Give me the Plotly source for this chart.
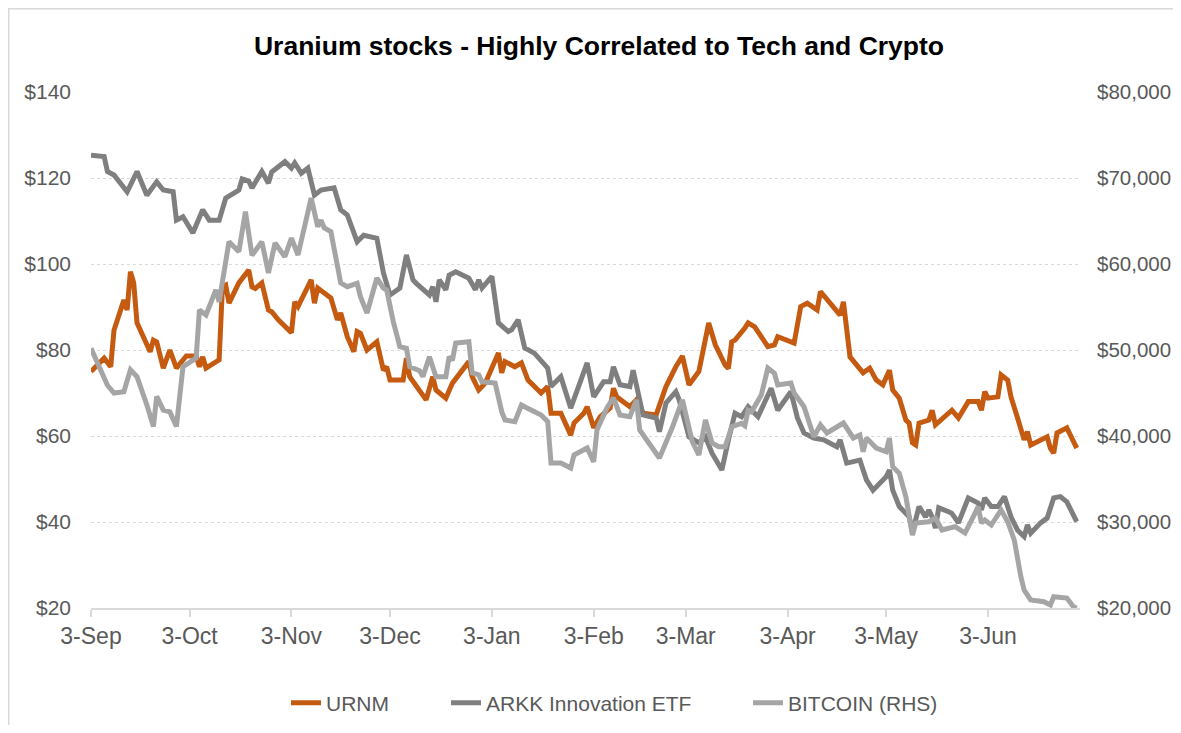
import plotly.graph_objects as go

# ---------------- data ----------------
urnm_dates = ["2021-09-03","2021-09-07","2021-09-09","2021-09-10","2021-09-13","2021-09-14","2021-09-15","2021-09-16",
 "2021-09-17","2021-09-20","2021-09-21","2021-09-22","2021-09-23","2021-09-25","2021-09-27","2021-09-29","2021-10-02",
 "2021-10-05","2021-10-06","2021-10-07","2021-10-08","2021-10-12","2021-10-13","2021-10-14","2021-10-15","2021-10-18",
 "2021-10-21","2021-10-22","2021-10-23","2021-10-25","2021-10-27","2021-10-28","2021-10-30","2021-11-03","2021-11-04",
 "2021-11-05","2021-11-09","2021-11-10","2021-11-11","2021-11-15","2021-11-17","2021-11-18","2021-11-20","2021-11-22",
 "2021-11-23","2021-11-24","2021-11-26","2021-11-29","2021-12-01","2021-12-02","2021-12-03","2021-12-07","2021-12-08",
 "2021-12-09","2021-12-11","2021-12-14","2021-12-16","2021-12-17","2021-12-20","2021-12-22","2021-12-27","2021-12-28",
 "2021-12-30","2022-01-01","2022-01-05","2022-01-06","2022-01-07","2022-01-10","2022-01-12","2022-01-14","2022-01-18",
 "2022-01-20","2022-01-21","2022-01-24","2022-01-27","2022-01-28","2022-01-31","2022-02-01","2022-02-03","2022-02-05",
 "2022-02-08","2022-02-09","2022-02-10","2022-02-12","2022-02-14","2022-02-16","2022-02-18","2022-02-22","2022-02-25",
 "2022-02-28","2022-03-02","2022-03-04","2022-03-07","2022-03-10","2022-03-12","2022-03-15","2022-03-16","2022-03-17",
 "2022-03-18","2022-03-21","2022-03-22","2022-03-24","2022-03-28","2022-03-30","2022-03-31","2022-04-05","2022-04-07",
 "2022-04-09","2022-04-12","2022-04-13","2022-04-19","2022-04-20","2022-04-22","2022-04-26","2022-04-28","2022-04-30",
 "2022-05-02","2022-05-04","2022-05-05","2022-05-07","2022-05-09","2022-05-10","2022-05-11","2022-05-12","2022-05-13",
 "2022-05-16","2022-05-17","2022-05-18","2022-05-23","2022-05-25","2022-05-28","2022-05-31","2022-06-01","2022-06-02",
 "2022-06-03","2022-06-06","2022-06-07","2022-06-09","2022-06-10","2022-06-12","2022-06-14","2022-06-15","2022-06-16",
 "2022-06-21","2022-06-22","2022-06-23","2022-06-24","2022-06-27","2022-06-29","2022-06-30"]
urnm_values = [75,78.1,76.1,84.6,91.6,89.3,98.2,95.6,
 86.3,80.8,79.6,82.3,81.9,75.8,80,75.8,78.6,
 78.6,76.1,78.4,75.8,77.7,94.7,95.1,90.9,95.6,
 98.6,94.7,94.3,95.6,89.3,88.9,87,84,91.2,
 90.1,96.3,90.9,94.4,92.1,87,88.6,83.1,79.6,
 84.3,83.9,80,81.9,75.3,76.1,73,73,78.1,
 73.8,71.5,68.4,73.8,70.7,68.8,72.3,77.3,73.8,
 70.7,72.3,79.3,74.7,77.3,76.1,77,73,70,
 71.5,65.3,65.3,60.2,63,65.3,66.8,61.9,64.5,
 66.5,71.1,69.1,68,66.8,68.4,65.3,64.9,71.5,
 76.1,78.6,71.9,75,86.3,81.2,76.5,75.7,81.9,
 82.3,85.1,86.3,85.4,80.8,81.2,83.1,81.6,90.1,
 90.9,89.3,93.6,88.1,91.2,78.4,74.7,75.8,73,
 71.9,75.3,70.7,68.8,63.7,63,58.4,57.9,63,
 63.7,66,62.6,66,64.2,68,68,66,70.3,
 68.8,69.1,74.2,73,69.1,64.2,59.1,61,57.9,
 59.8,57.1,56,60.7,61.9,59.1,57.2]

arkk_dates = ["2021-09-03","2021-09-07","2021-09-08","2021-09-10","2021-09-14","2021-09-17","2021-09-20","2021-09-23",
 "2021-09-25","2021-09-28","2021-09-29","2021-10-01","2021-10-04","2021-10-07","2021-10-09","2021-10-12","2021-10-14",
 "2021-10-18","2021-10-19","2021-10-21","2021-10-22","2021-10-25","2021-10-27","2021-10-28","2021-11-01","2021-11-03",
 "2021-11-04","2021-11-06","2021-11-08","2021-11-10","2021-11-12","2021-11-16","2021-11-18","2021-11-20","2021-11-23",
 "2021-11-25","2021-11-29","2021-12-01","2021-12-03","2021-12-06","2021-12-08","2021-12-10","2021-12-11","2021-12-15",
 "2021-12-16","2021-12-17","2021-12-18","2021-12-20","2021-12-21","2021-12-23","2021-12-27","2021-12-29","2021-12-30",
 "2021-12-31","2022-01-03","2022-01-05","2022-01-08","2022-01-09","2022-01-11","2022-01-13","2022-01-16","2022-01-20",
 "2022-01-21","2022-01-24","2022-01-27","2022-01-30","2022-02-01","2022-02-03","2022-02-06","2022-02-08","2022-02-09",
 "2022-02-11","2022-02-14","2022-02-15","2022-02-17","2022-02-18","2022-02-22","2022-02-23","2022-02-25","2022-02-28",
 "2022-03-01","2022-03-04","2022-03-07","2022-03-09","2022-03-11","2022-03-14","2022-03-16","2022-03-18","2022-03-20",
 "2022-03-22","2022-03-25","2022-03-29","2022-03-31","2022-04-04","2022-04-06","2022-04-08","2022-04-11","2022-04-14",
 "2022-04-18","2022-04-19","2022-04-21","2022-04-25","2022-04-27","2022-04-29","2022-05-03","2022-05-04","2022-05-05",
 "2022-05-07","2022-05-10","2022-05-11","2022-05-13","2022-05-15","2022-05-16","2022-05-17","2022-05-18","2022-05-19",
 "2022-05-22","2022-05-23","2022-05-25","2022-05-28","2022-05-31","2022-06-01","2022-06-02","2022-06-04","2022-06-06",
 "2022-06-08","2022-06-10","2022-06-12","2022-06-14","2022-06-15","2022-06-16","2022-06-19","2022-06-21","2022-06-23",
 "2022-06-25","2022-06-27","2022-06-29","2022-06-30"]
arkk_values = [125.3,125,121.5,120.7,116.8,121.5,116,119.1,
 117.2,116.8,110.2,111,107.2,112.6,110.2,110.2,115.3,
 117.2,119.8,119.3,117.7,121.5,118.8,121.4,123.8,122.3,
 123.5,121.1,122.3,116,117.2,117.7,112.6,111.4,105.2,
 106.7,106,97.9,92.8,94.4,102.1,96.3,95.5,92.8,
 94.7,91.2,96.3,94,97.4,98.2,96.7,94,96.3,
 94.4,97.1,86.3,84.3,84.7,87,80.5,79.2,75.8,
 71.5,73.8,66.5,73,77,69.1,72.6,72.6,76.1,
 71.9,71.5,75.3,69.1,64.9,64.2,61,67.7,70.3,
 68.4,59.8,58.4,59.8,56,52.1,59.1,65.3,64.5,
 66.8,64.5,71.1,66,70.3,64.2,60.7,59.5,59.1,
 57.5,59.1,53.7,54.4,49.8,47.4,50.5,52.1,47.4,
 43.6,41.2,37.6,43.6,41.2,42.8,41.2,38.6,43.3,
 42.4,42,39.8,45.6,44.4,42.8,45.6,43.6,43.6,
 45.9,41.2,38.1,36.6,39.3,37.4,39.8,40.9,45.6,
 45.9,44.7,41.6,40.1]

btc_dates = ["2021-09-03","2021-09-06","2021-09-08","2021-09-10","2021-09-13","2021-09-15","2021-09-17","2021-09-20",
 "2021-09-22","2021-09-23","2021-09-25","2021-09-27","2021-09-29","2021-10-01","2021-10-05","2021-10-06","2021-10-08",
 "2021-10-11","2021-10-12","2021-10-15","2021-10-18","2021-10-20","2021-10-22","2021-10-25","2021-10-27","2021-10-29",
 "2021-11-01","2021-11-03","2021-11-05","2021-11-09","2021-11-11","2021-11-12","2021-11-13","2021-11-15","2021-11-18",
 "2021-11-20","2021-11-23","2021-11-24","2021-11-26","2021-11-29","2021-12-01","2021-12-02","2021-12-04","2021-12-06",
 "2021-12-08","2021-12-09","2021-12-12","2021-12-13","2021-12-15","2021-12-17","2021-12-20","2021-12-21","2021-12-22",
 "2021-12-23","2021-12-27","2021-12-28","2021-12-30","2021-12-31","2022-01-04","2022-01-06","2022-01-07","2022-01-10",
 "2022-01-12","2022-01-14","2022-01-18","2022-01-20","2022-01-21","2022-01-24","2022-01-27","2022-01-28","2022-01-30",
 "2022-02-01","2022-02-03","2022-02-04","2022-02-07","2022-02-09","2022-02-11","2022-02-14","2022-02-16","2022-02-17",
 "2022-02-23","2022-02-27","2022-03-02","2022-03-04","2022-03-05","2022-03-07","2022-03-09","2022-03-11","2022-03-13",
 "2022-03-15","2022-03-17","2022-03-20","2022-03-21","2022-03-22","2022-03-23","2022-03-26","2022-03-28","2022-03-30",
 "2022-03-31","2022-04-04","2022-04-05","2022-04-08","2022-04-11","2022-04-13","2022-04-15","2022-04-20","2022-04-23",
 "2022-04-25","2022-04-26","2022-04-27","2022-04-30","2022-05-03","2022-05-04","2022-05-05","2022-05-07","2022-05-09",
 "2022-05-10","2022-05-11","2022-05-12","2022-05-16","2022-05-18","2022-05-20","2022-05-24","2022-05-27","2022-05-29",
 "2022-05-31","2022-06-01","2022-06-02","2022-06-04","2022-06-07","2022-06-09","2022-06-11","2022-06-13","2022-06-14",
 "2022-06-16","2022-06-20","2022-06-22","2022-06-23","2022-06-27","2022-06-29","2022-06-30"]
btc_values = [50200,47700,45900,45000,45150,47700,46900,43600,
 41100,44600,43000,42800,41100,48050,49070,54650,54070,
 57000,55600,62600,61430,66080,61000,62600,58950,62440,
 60850,63000,61050,67670,64340,65100,64190,63760,57790,
 57360,57750,56200,54300,58370,57200,56980,53300,50380,
 50200,48050,47600,46900,49220,46900,46900,49220,48800,
 50810,50970,47330,47100,46300,46160,42830,41860,41670,
 43600,43200,42440,41670,36860,36860,36280,37790,38170,
 38600,37000,40700,43260,44420,42440,42240,44200,40700,
 37440,41080,44200,40700,39330,37790,41860,39200,38750,
 38750,41080,41470,41200,43000,42800,44770,47900,47300,
 45930,46160,45000,43400,39920,41280,40350,41510,39770,
 40120,38170,39770,38600,38170,39770,36430,35660,32940,
 31050,28490,29880,30030,30470,29070,29460,28720,30230,
 31780,29880,30230,29650,31400,30030,27900,23640,22090,
 20930,20730,20350,21320,21160,20150,20000]

tick_dates = ["2021-09-03","2021-10-03","2021-11-03","2021-12-03","2022-01-03","2022-02-03",
              "2022-03-03","2022-04-03","2022-05-03","2022-06-03"]
tick_labels = ["3-Sep","3-Oct","3-Nov","3-Dec","3-Jan","3-Feb","3-Mar","3-Apr","3-May","3-Jun"]

left_ticks = [20, 40, 60, 80, 100, 120, 140]
right_ticks = [20000, 30000, 40000, 50000, 60000, 70000, 80000]
left_labels = ["$" + format(v, ",") for v in left_ticks]
right_labels = ["$" + format(v, ",") for v in right_ticks]

# ---------------- styling ----------------
FONT = "Arial, 'Liberation Sans', sans-serif"
TXT = "#595959"
GRID = "#d9d9d9"
C_URNM = "#C55A11"
C_ARKK = "#7F7F7F"
C_BTC = "#A5A5A5"
LW = 5

# the page body adds an 8px margin on every side: size the figure to fit inside it
OFF = 8
W, H = 1181 - 2 * OFF, 733 - 2 * OFF
PL, PR, PT, PB = 91, 1080, 92, 608          # plot area in page pixels
L, T = PL - OFF, PT - OFF
R, B = W - (PR - OFF), H - (PB - OFF)
pw, ph = W - L - R, H - T - B

def px_x(p):   # page pixel -> paper x
    return (p - OFF - L) / pw

def px_y(p):   # page pixel -> paper y
    return (H - B - (p - OFF)) / ph

def cx(p):     # page pixel -> container x
    return (p - OFF) / W

def cy(p):     # page pixel -> container y
    return 1 - (p - OFF) / H

fig = go.Figure()
fig.add_trace(go.Scatter(x=urnm_dates, y=urnm_values, name="URNM", mode="lines",
                         line=dict(color=C_URNM, width=LW), yaxis="y", legend="legend"))
fig.add_trace(go.Scatter(x=arkk_dates, y=arkk_values, name="ARKK Innovation ETF", mode="lines",
                         line=dict(color=C_ARKK, width=LW), yaxis="y", legend="legend2"))
fig.add_trace(go.Scatter(x=btc_dates, y=btc_values, name="BITCOIN (RHS)", mode="lines",
                         line=dict(color=C_BTC, width=LW), yaxis="y2", legend="legend3"))

legend_common = dict(orientation="h", xanchor="left", yanchor="middle",
                     xref="container", yref="container", y=cy(703),
                     font=dict(size=21, color=TXT, family=FONT), bgcolor="rgba(0,0,0,0)")

fig.update_layout(
    template="none",
    width=W, height=H, autosize=False,
    margin=dict(l=L, r=R, t=T, b=B, pad=0, autoexpand=False),
    paper_bgcolor="white", plot_bgcolor="white",
    font=dict(family=FONT, color=TXT, size=21),
    title=dict(text="<b>Uranium stocks - Highly Correlated to Tech and Crypto</b>",
               x=cx(599), xanchor="center", xref="container",
               y=cy(46), yanchor="middle", yref="container",
               font=dict(family=FONT, size=26.5, color="#000000")),
    xaxis=dict(type="date", range=["2021-09-03", "2022-07-01"], automargin=False,
               tickmode="array", tickvals=tick_dates, ticktext=tick_labels,
               showgrid=False, showline=True, linecolor=GRID, linewidth=1.5,
               ticks="outside", ticklen=7, tickcolor=GRID, tickwidth=1.5,
               tickfont=dict(size=23, color=TXT), zeroline=False),
    yaxis=dict(range=[20, 140], automargin=False, tickmode="array", tickvals=left_ticks, ticktext=left_labels,
               showgrid=True, gridcolor=GRID, griddash="dot", gridwidth=1,
               zeroline=False, showline=False, ticks="", ticklabelstandoff=19,
               tickfont=dict(size=21, color=TXT)),
    yaxis2=dict(range=[20000, 80000], automargin=False, tickmode="array", tickvals=right_ticks,
                ticktext=right_labels, overlaying="y", side="right",
                showgrid=False, zeroline=False, showline=False, ticks="", ticklabelstandoff=16,
                tickfont=dict(size=20.5, color=TXT)),
    showlegend=True,
    legend=dict(legend_common, x=cx(326 - 40)),
    legend2=dict(legend_common, x=cx(486 - 40)),
    legend3=dict(legend_common, x=cx(788 - 40)),
    shapes=[dict(type="rect", xref="paper", yref="paper",
                 x0=px_x(OFF + 0.75), x1=px_x(1200), y0=px_y(OFF + 0.75), y1=px_y(760),
                 line=dict(color=GRID, width=1.5), fillcolor="rgba(0,0,0,0)", layer="below")],
)

fig.write_html("out.html")
